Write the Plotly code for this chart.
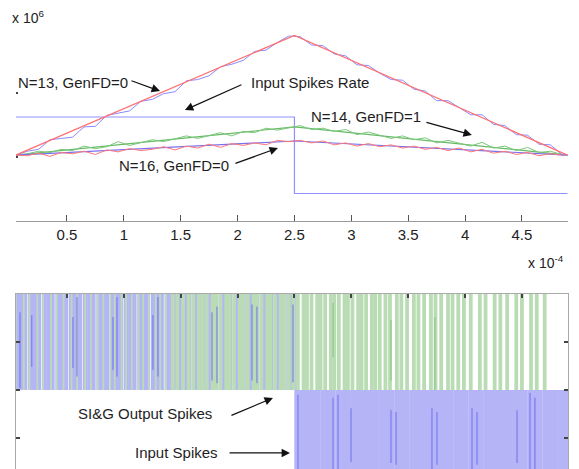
import plotly.graph_objects as go

# ---------------- data (time in units of 1e-4 s, rates in units of 1e6) ----------------
t_lin = [0.05, 2.5, 4.9]
rate_input = [1.03, 2.90, 1.03]          # red smooth triangle
rate_n14_smooth = [1.03, 1.47, 1.03]     # green smooth
rate_n16_smooth = [1.03, 1.25, 1.03]     # purple smooth

t_noisy = [0.05, 0.15, 0.25, 0.35, 0.45, 0.55, 0.65, 0.75, 0.85, 0.95, 1.05, 1.15, 1.25,
           1.35, 1.45, 1.55, 1.65, 1.75, 1.85, 1.95, 2.05, 2.15, 2.25, 2.35, 2.45, 2.55,
           2.65, 2.75, 2.85, 2.95, 3.05, 3.15, 3.25, 3.35, 3.45, 3.55, 3.65, 3.75, 3.85,
           3.95, 4.05, 4.15, 4.25, 4.35, 4.45, 4.55, 4.65, 4.75, 4.85, 4.9]
rate_n13 = [1.03, 1.09, 1.12, 1.27, 1.29, 1.31, 1.47, 1.48, 1.65, 1.68, 1.72, 1.87, 1.90,
            1.99, 2.02, 2.19, 2.21, 2.27, 2.41, 2.45, 2.51, 2.65, 2.67, 2.79, 2.89, 2.88,
            2.75, 2.74, 2.61, 2.58, 2.44, 2.43, 2.31, 2.21, 2.20, 2.06, 2.03, 1.88, 1.88,
            1.77, 1.66, 1.66, 1.51, 1.49, 1.35, 1.34, 1.20, 1.19, 1.04, 1.03]
rate_n14 = [1.03, 1.05, 1.09, 1.07, 1.12, 1.10, 1.17, 1.13, 1.16, 1.24, 1.18, 1.22, 1.27,
            1.24, 1.28, 1.33, 1.29, 1.34, 1.38, 1.33, 1.40, 1.38, 1.45, 1.42, 1.46, 1.49,
            1.43, 1.45, 1.40, 1.43, 1.35, 1.39, 1.34, 1.29, 1.33, 1.27, 1.30, 1.22, 1.26,
            1.21, 1.17, 1.23, 1.14, 1.17, 1.10, 1.15, 1.07, 1.09, 1.04, 1.03]
rate_n16 = [1.03, 1.02, 1.06, 1.01, 1.07, 1.05, 1.09, 1.04, 1.11, 1.08, 1.13, 1.10, 1.12,
            1.16, 1.11, 1.17, 1.14, 1.20, 1.15, 1.21, 1.18, 1.22, 1.19, 1.26, 1.24, 1.26,
            1.22, 1.25, 1.19, 1.22, 1.17, 1.21, 1.16, 1.19, 1.14, 1.17, 1.12, 1.15, 1.10,
            1.14, 1.08, 1.12, 1.06, 1.09, 1.04, 1.07, 1.02, 1.05, 1.03, 1.03]

t_step = [0.05, 2.5, 2.5, 4.9]
step_level = [1.625, 1.625, 0.43, 0.43]

# spike times (1e-4 s)
input_spikes_early = [0.06, 0.10, 0.13, 0.18, 0.22, 0.25, 0.30, 0.34, 0.37, 0.42, 0.46, 0.49,
                      0.54, 0.58, 0.61, 0.66, 0.70, 0.73, 0.78, 0.82, 0.85, 0.90, 0.94, 0.97,
                      1.02, 1.06, 1.09, 1.14, 1.18, 1.21, 1.26, 1.30, 1.33, 1.38, 1.42, 1.45,
                      1.50, 1.54, 1.57, 1.62, 1.66, 1.69, 1.74, 1.78, 1.81, 1.86, 1.90, 1.93,
                      1.98, 2.02, 2.05, 2.10, 2.14, 2.17, 2.22, 2.26, 2.29, 2.34, 2.38, 2.41,
                      2.46, 2.49]
input_spikes_late = [2.52, 2.55, 2.58, 2.62, 2.65, 2.68, 2.71, 2.75, 2.78, 2.81, 2.84, 2.88,
                     2.91, 2.94, 2.97, 3.01, 3.04, 3.07, 3.10, 3.14, 3.17, 3.20, 3.23, 3.27,
                     3.30, 3.33, 3.36, 3.40, 3.43, 3.46, 3.49, 3.53, 3.56, 3.59, 3.62, 3.66,
                     3.69, 3.72, 3.75, 3.79, 3.82, 3.85, 3.88, 3.92, 3.95, 3.98, 4.01, 4.05,
                     4.08, 4.11, 4.14, 4.18, 4.21, 4.24, 4.27, 4.31, 4.34, 4.37, 4.40, 4.44,
                     4.47, 4.50, 4.53, 4.57, 4.60, 4.63, 4.66, 4.70, 4.73, 4.76, 4.79, 4.83,
                     4.86, 4.89]
output_spikes = [0.05, 0.12, 0.17, 0.24, 0.29, 0.36, 0.41, 0.47, 0.54, 0.59, 0.66, 0.71, 0.77,
                 0.82, 0.88, 0.92, 0.98, 1.02, 1.07, 1.13, 1.17, 1.22, 1.28, 1.32, 1.37, 1.43,
                 1.47, 1.52, 1.57, 1.61, 1.66, 1.69, 1.73, 1.78, 1.81, 1.85, 1.90, 1.93, 1.97,
                 2.02, 2.05, 2.09, 2.14, 2.17, 2.21, 2.26, 2.29, 2.33, 2.38, 2.41, 2.45, 2.49,
                 2.53, 2.58, 2.61, 2.65, 2.70, 2.73, 2.77, 2.82, 2.85, 2.89, 2.94, 2.97, 3.01,
                 3.06, 3.09, 3.13, 3.18, 3.21, 3.25, 3.30, 3.34, 3.40, 3.44, 3.49, 3.55, 3.59,
                 3.64, 3.70, 3.74, 3.79, 3.85, 3.89, 3.94, 3.99, 4.05, 4.13, 4.18, 4.26, 4.31,
                 4.37, 4.45, 4.50, 4.58, 4.63, 4.70]

# darker overlap streaks seen inside the dense spike trains: (time, y_low, y_high)
streaks_blue = [(0.087, 0.02, 0.81), (0.19, 0.24, 0.78), (0.553, 0.23, 0.76), (0.588, 0.14, 0.97),
                (0.905, 0.21, 0.76), (0.94, 0.14, 0.97), (1.256, 0.21, 0.78), (1.30, 0.14, 0.97),
                (1.775, 0.10, 0.81), (1.819, 0.07, 0.87), (2.127, 0.10, 0.89), (2.17, 0.07, 0.87),
                (2.487, 0.08, 0.89),
                (2.531, -0.9, -0.05), (2.839, -0.9, -0.08), (2.883, -0.9, -0.05), (2.997, -0.75, -0.19),
                (3.349, -0.76, -0.21), (3.393, -0.78, -0.23), (3.709, -0.9, -0.19), (3.753, -0.78, -0.23),
                (4.061, -0.9, -0.19), (4.105, -0.78, -0.23), (4.457, -0.76, -0.21), (4.571, -0.9, -0.03),
                (4.614, -0.9, -0.08)]
streaks_green = [(2.839, 0.34, 0.91), (3.349, 0.10, 0.73), (3.735, 0.0, 0.76)]

tick_vals = [0.5, 1, 1.5, 2, 2.5, 3, 3.5, 4, 4.5]
tick_text = ["0.5", "1", "1.5", "2", "2.5", "3", "3.5", "4", "4.5"]

W, H = 579, 469
FONT = "Liberation Sans, Arial, sans-serif"
FS = 15


def spikes(times, y0, y1):
    xs, ys = [], []
    for t in times:
        xs += [t, t, None]
        ys += [y0, y1, None]
    return xs, ys


def segs(items):
    xs, ys = [], []
    for t, a, b in items:
        xs += [t, t, None]
        ys += [a, b, None]
    return xs, ys


fig = go.Figure()

# ---------------- top panel ----------------
fig.add_trace(go.Scatter(x=t_step, y=step_level, mode="lines",
                         line=dict(color="#8f8fff", width=1.2), xaxis="x", yaxis="y"))
fig.add_trace(go.Scatter(x=t_lin, y=rate_n14_smooth, mode="lines",
                         line=dict(color="#66bb66", width=1.2), xaxis="x", yaxis="y"))
fig.add_trace(go.Scatter(x=t_noisy, y=rate_n14, mode="lines",
                         line=dict(color="#7cc77c", width=1.0), xaxis="x", yaxis="y"))
fig.add_trace(go.Scatter(x=t_lin, y=rate_n16_smooth, mode="lines",
                         line=dict(color="#7a70ee", width=1.2), xaxis="x", yaxis="y"))
fig.add_trace(go.Scatter(x=t_noisy, y=rate_n16, mode="lines",
                         line=dict(color="#ff7878", width=1.0), xaxis="x", yaxis="y"))
fig.add_trace(go.Scatter(x=t_noisy, y=rate_n13, mode="lines",
                         line=dict(color="#8a8aff", width=1.0), xaxis="x", yaxis="y"))
fig.add_trace(go.Scatter(x=t_lin, y=rate_input, mode="lines",
                         line=dict(color="#ff7070", width=1.2), xaxis="x", yaxis="y"))

# ---------------- bottom panel ----------------
bx, by = spikes(input_spikes_early, 0, 1)
fig.add_trace(go.Scatter(x=bx, y=by, mode="lines",
                         line=dict(color="#b4b4f7", width=5), xaxis="x2", yaxis="y2"))
bx, by = spikes(input_spikes_late, 0, -1)
fig.add_trace(go.Scatter(x=bx, y=by, mode="lines",
                         line=dict(color="#b4b4f7", width=4.8), xaxis="x2", yaxis="y2"))
early_out = [t for t in output_spikes if t < 1.4]
late_out = [t for t in output_spikes if t >= 1.4]
gx, gy = spikes(early_out, 0, 1)
fig.add_trace(go.Scatter(x=gx, y=gy, mode="lines",
                         line=dict(color="#badcb5", width=1.8), xaxis="x2", yaxis="y2"))
gx, gy = spikes(late_out, 0, 1)
fig.add_trace(go.Scatter(x=gx, y=gy, mode="lines",
                         line=dict(color="#badcb5", width=3.8), xaxis="x2", yaxis="y2"))
sx, sy = segs(streaks_blue)
fig.add_trace(go.Scatter(x=sx, y=sy, mode="lines",
                         line=dict(color="rgba(105,105,235,0.6)", width=1.5), xaxis="x2", yaxis="y2"))
sx, sy = segs(streaks_green)
fig.add_trace(go.Scatter(x=sx, y=sy, mode="lines",
                         line=dict(color="rgba(120,185,120,0.6)", width=1.3), xaxis="x2", yaxis="y2"))

# ---------------- annotations ----------------
txt = dict(size=FS, color="#1e1e1e", family=FONT)
ann = []


def label(x, y, text, xref="x", yref="y"):
    ann.append(dict(x=x, y=y, xref=xref, yref=yref, text=text, showarrow=False,
                    xanchor="left", yanchor="middle", font=txt))


def arrow(x0, y0, x1, y1, xref="x", yref="y"):
    ann.append(dict(x=x1, y=y1, ax=x0, ay=y0, xref=xref, yref=yref, axref=xref, ayref=yref,
                    text="", showarrow=True, arrowhead=2, arrowsize=1.4, arrowwidth=1.2,
                    arrowcolor="#111111"))


label(0.054, 2.17, "N=13, GenFD=0")
arrow(1.054, 2.20, 1.318, 2.03)
label(2.10, 2.17, "Input Spikes Rate")
arrow(2.047, 2.14, 1.537, 1.734)
label(2.63, 1.64, "N=14, GenFD=1")
arrow(3.647, 1.547, 4.06, 1.344)
label(0.94, 0.875, "N=16, GenFD=0")
arrow(1.968, 0.891, 2.355, 1.14)

label(0.58, -0.24, "SI&amp;G Output Spikes", "x2", "y2")
arrow(1.933, -0.271, 2.311, -0.083, "x2", "y2")
label(1.08, -0.656, "Input Spikes", "x2", "y2")
arrow(1.916, -0.656, 2.461, -0.656, "x2", "y2")

ann.append(dict(x=10 / W, y=1 - 17 / H, xref="paper", yref="paper", text="x 10<sup>6</sup>",
                showarrow=False, xanchor="left", yanchor="middle", font=dict(size=14, color="#222", family=FONT)))
ann.append(dict(x=526 / W, y=1 - 262 / H, xref="paper", yref="paper", text="x 10<sup>-4</sup>",
                showarrow=False, xanchor="left", yanchor="middle", font=dict(size=14, color="#222", family=FONT)))

xr = [0.052, 4.905]
xdom = [16 / W, 568 / W]
fig.update_layout(
    width=W, height=H, margin=dict(l=0, r=0, t=0, b=0),
    paper_bgcolor="white", plot_bgcolor="white", showlegend=False,
    font=dict(family=FONT, size=FS, color="#222"),
    xaxis=dict(domain=xdom, range=xr, anchor="y", tickvals=tick_vals, ticktext=tick_text,
               ticks="inside", ticklen=6, tickwidth=1, tickcolor="#555", showline=True,
               linecolor="#9a9a9a", linewidth=1, showgrid=False, zeroline=False,
               tickfont=dict(size=FS, color="#222", family=FONT)),
    yaxis=dict(domain=[1 - 221 / H, 1 - 29 / H], range=[0, 3], anchor="x", tickvals=[1, 2, 3],
               ticks="inside", ticklen=2, tickwidth=2, tickcolor="#444", showline=False,
               showticklabels=False, showgrid=False, zeroline=False),
    xaxis2=dict(domain=xdom, range=xr, anchor="y2", side="top", tickvals=tick_vals,
                ticks="inside", ticklen=4, tickwidth=1.5, tickcolor="#444", showline=True,
                linecolor="#aaaaaa", linewidth=1, showticklabels=False, showgrid=False,
                zeroline=False),
    yaxis2=dict(domain=[0, 1 - 294 / H], range=[-0.823, 1], anchor="x2", side="right",
                tickvals=[-0.5, 0, 0.5, 1], ticks="inside", ticklen=4, tickwidth=1.5,
                tickcolor="#444", showline=True, mirror="ticks", linecolor="#aaaaaa",
                linewidth=1, showticklabels=False, showgrid=False, zeroline=False),
    annotations=ann,
)

fig.write_html("out.html", config={"displayModeBar": False},
               post_script="document.body.style.margin='0px';")
